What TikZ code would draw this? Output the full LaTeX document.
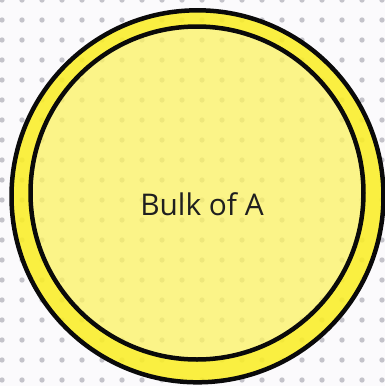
\documentclass[tikz,border=0pt]{standalone}
\usepackage{fontspec}
\setmainfont{Open Sans}
\usepackage{tikz}
\usetikzlibrary{positioning}
\definecolor{paper}{RGB}{251,250,252}
\definecolor{griddot}{RGB}{196,195,202}
\definecolor{shellyellow}{RGB}{250,238,40}
\definecolor{bulkyellow}{RGB}{252,243,100}
\definecolor{inkline}{RGB}{10,10,10}

\begin{document}
\begin{tikzpicture}[
    x=0.02cm, y=-0.02cm,
    gdot/.style={
      fill=griddot, draw=none
    },
    shell/.style={
      fill=shellyellow, fill opacity=0.88, even odd rule
    },
    bulk/.style={
      fill=bulkyellow, fill opacity=0.76
    },
    rim/.style={
      draw=inkline, line width=0.09cm
    },
    lbl/.style={
      font=\fontsize{17}{20}\selectfont, text=black!88
    }
  ]

  % ---- Canvas ----
  \fill[paper] (0,0) rectangle (385,386);
  \useasboundingbox (0,0) rectangle (385,386);

  % ---- Dot grid ----
  \foreach \i in {0,...,19}{
    \foreach \j in {0,...,19}{
      \fill[gdot] (2+20*\i,20*\j) circle (2.7);
    }
  }

  % ---- Outer shell and bulk ----
  \fill[shell] (197.5,196.3) circle (186) (197,193) circle (166.5);
  \fill[bulk]  (197,193) circle (166.5);
  \draw[rim] (197.5,196.3) circle (186);
  \draw[rim] (197,193) circle (166.5);

  % ---- Label ----
  \node[lbl] (bulklabel) at (202,204) {Bulk of A};

\end{tikzpicture}
\end{document}
